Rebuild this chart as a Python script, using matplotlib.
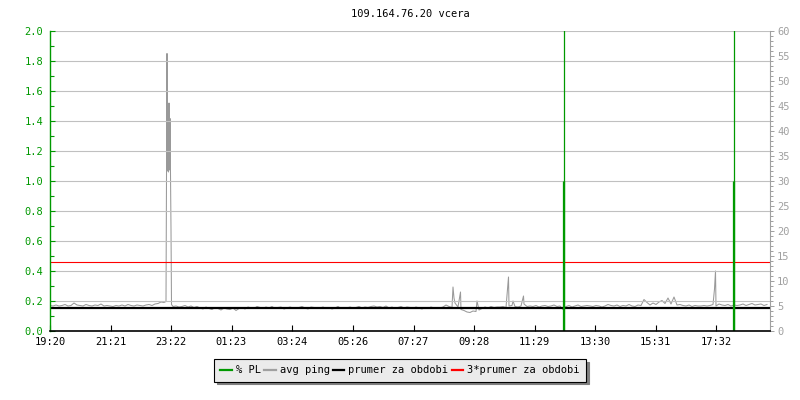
import numpy as np
import matplotlib.pyplot as plt
from matplotlib.lines import Line2D
from matplotlib.ticker import MultipleLocator, FormatStrFormatter

plt.rcParams['font.family'] = ['DejaVu Sans Mono']
plt.rcParams['font.size'] = 7.5

title = '109.164.76.20 vcera'
start_label = '19:20'
tick_labels = ['19:20', '21:21', '23:22', '01:23', '03:24', '05:26',
               '07:27', '09:28', '11:29', '13:30', '15:31', '17:32']

# avg ping [ms], one sample every 6 minutes from 19:20
ping_step = 6
ping_base = [
    5.1, 5.0, 5.2, 5.0, 5.1, 5.3, 5.0, 5.1, 5.6, 5.2,
    5.1, 5.0, 5.3, 5.1, 5.0, 5.2, 5.1, 5.4, 5.0, 5.1,
    5.0, 4.9, 5.1, 5.0, 5.2, 5.0, 5.3, 5.1, 5.0, 5.2,
    5.1, 5.0, 5.2, 5.3, 5.1, 5.4, 5.5, 5.8, 5.7, 55.5,
    42.5, 4.9, 5.0, 4.8, 4.9, 5.1, 4.8, 5.0, 4.7, 4.9,
    4.6, 4.4, 4.8, 4.5, 4.3, 4.7, 4.5, 4.2, 4.6, 4.4,
    4.3, 4.6, 4.1, 4.5, 4.7, 4.4, 4.8, 4.6, 4.5, 4.9,
    4.7, 4.5, 4.8, 4.6, 4.9, 4.5, 4.7, 4.8, 4.4, 4.6,
    4.8, 4.6, 4.5, 4.7, 4.9, 4.6, 4.4, 4.8, 4.7, 4.5,
    4.6, 4.8, 4.5, 4.7, 4.4, 4.6, 4.9, 4.5, 4.7, 4.6,
    4.8, 4.6, 4.7, 4.9, 4.6, 4.8, 4.7, 4.9, 5.0, 4.8,
    4.9, 4.7, 5.0, 4.6, 4.8, 4.5, 4.7, 4.9, 4.6, 4.8,
    4.7, 4.5, 4.8, 4.6, 4.4, 4.7, 4.5, 4.8, 4.6, 4.5,
    4.6, 4.8, 5.2, 4.9, 4.7, 5.6, 4.8, 4.3, 4.1, 3.8,
    3.7, 4.0, 3.9, 4.2, 4.5, 4.8, 4.6, 4.9, 4.7, 4.8,
    4.8, 4.9, 4.7, 5.0, 5.1, 4.9, 4.8, 5.0, 5.4, 4.9,
    5.0, 4.9, 5.1, 4.8, 5.0, 5.1, 4.9, 5.0, 5.2, 4.9,
    5.0, 4.3, 4.9, 5.1, 4.8, 5.0, 5.2, 4.9, 5.0, 5.1,
    5.0, 4.9, 5.1, 5.0, 4.8, 5.0, 5.3, 5.1, 5.0, 5.2,
    4.9, 5.1, 5.0, 5.3, 5.0, 4.9, 5.2, 5.1, 6.3, 5.7,
    5.2, 5.6, 5.3, 5.8, 6.1, 5.5, 6.6, 5.4, 6.8, 5.2,
    5.3, 5.1, 5.0, 5.2, 4.9, 5.1, 5.0, 5.0, 5.1, 5.0,
    5.1, 5.3, 5.0, 5.4, 5.2, 5.1, 5.3, 5.0, 5.2, 5.1,
    5.2, 5.4, 5.1, 5.3, 5.5, 5.2, 5.3, 5.4, 5.1, 5.3,
]
# extra samples between the regular ones [minutes from 19:20]
ping_extra_t = [232, 235, 236, 237, 238, 239, 241, 242, 243,
                806, 808, 821, 854, 917, 926, 947, 1329, 1331]
ping_extra_ms = [5.9, 32.0, 42.4, 31.8, 45.6, 32.2, 31.6, 20.4, 5.3,
                 8.8, 6.6, 7.8, 6.0, 10.8, 6.0, 7.0, 8.4, 12.0]

# packet loss [%], only the non-zero samples [minutes from 19:20]
pl_t = [1026, 1027, 1028, 1366, 1367, 1368]
pl_v = [1.0, 3.0, 1.0, 1.0, 3.0, 1.0]

prumer = 4.6  # ms

labels = ['% PL', 'avg ping', 'prumer za obdobi', '3*prumer za obdobi']
colors = ['#009900', '#a0a0a0', 'black', 'red']


def minutes(label):
    h, m = map(int, label.split(':'))
    h0, m0 = map(int, start_label.split(':'))
    return (h * 60 + m - h0 * 60 - m0) % 1440


tick_pos = [minutes(s) for s in tick_labels]

t = np.concatenate([np.arange(len(ping_base)) * ping_step, ping_extra_t])
p = np.concatenate([ping_base, ping_extra_ms])
order = np.argsort(t, kind='stable')
t, p = t[order], p[order]

fig, ax = plt.subplots(figsize=(8, 4), dpi=100)
fig.subplots_adjust(left=0.0625, right=0.9625, bottom=0.1725, top=0.9225)
axr = ax.twinx()
ax.set_zorder(axr.get_zorder() + 1)
ax.patch.set_visible(False)

# right axis: ping
axr.plot(t, p, color='#999999', lw=0.75)
axr.axhline(prumer, color='black', lw=1.6)
axr.axhline(3 * prumer, color='red', lw=0.8)
axr.set_ylim(0, 60)
axr.yaxis.set_major_locator(MultipleLocator(5))
axr.yaxis.set_minor_locator(MultipleLocator(1))
axr.tick_params(axis='y', which='major', direction='out', length=3, width=0.7,
                color='#a0a0a0', labelcolor='#a0a0a0', pad=2)
axr.tick_params(axis='y', which='minor', direction='out', length=2.2, width=0.7,
                color='#a0a0a0')
for s in ['left', 'top', 'bottom']:
    axr.spines[s].set_visible(False)
axr.spines['right'].set_color('#a0a0a0')
axr.spines['right'].set_linewidth(0.8)

# left axis: packet loss
ax.vlines(pl_t, 0, pl_v, color='#009900', lw=0.9)
ax.set_xlim(0, 1440)
ax.set_ylim(0, 2)
ax.yaxis.set_major_locator(MultipleLocator(0.2))
ax.yaxis.set_minor_locator(MultipleLocator(0.1))
ax.yaxis.set_major_formatter(FormatStrFormatter('%.1f'))
ax.set_xticks(tick_pos)
ax.set_xticklabels(tick_labels)
ax.yaxis.grid(True, color='#c0c0c0', lw=0.8)
ax.set_axisbelow(True)
ax.tick_params(axis='y', which='major', direction='in', length=3.8, width=0.8,
               color='#009900', labelcolor='#009900', pad=5)
ax.tick_params(axis='y', which='minor', direction='in', length=3, width=0.8,
               color='#009900')
ax.tick_params(axis='x', direction='in', length=4, width=0.8, color='black', pad=4)
ax.spines['top'].set_visible(False)
ax.spines['right'].set_visible(False)
ax.spines['left'].set_color('#009900')
ax.spines['left'].set_linewidth(1.0)
ax.spines['bottom'].set_linewidth(1.2)

ax.set_title(title, pad=10, fontsize=7.5)

handles = [Line2D([], [], color=c, lw=1.6) for c in colors]
leg = fig.legend(handles, labels, loc='upper center', bbox_to_anchor=(0.5, 0.1025),
                 ncol=4, fancybox=False, shadow={'color': '#808080', 'alpha': 1},
                 handlelength=1.1, handletextpad=0.4, columnspacing=0.3,
                 borderpad=0.6, borderaxespad=0, edgecolor='black',
                 facecolor='#ebebeb', framealpha=1)
leg.get_frame().set_linewidth(0.8)

fig.savefig('out.png')
